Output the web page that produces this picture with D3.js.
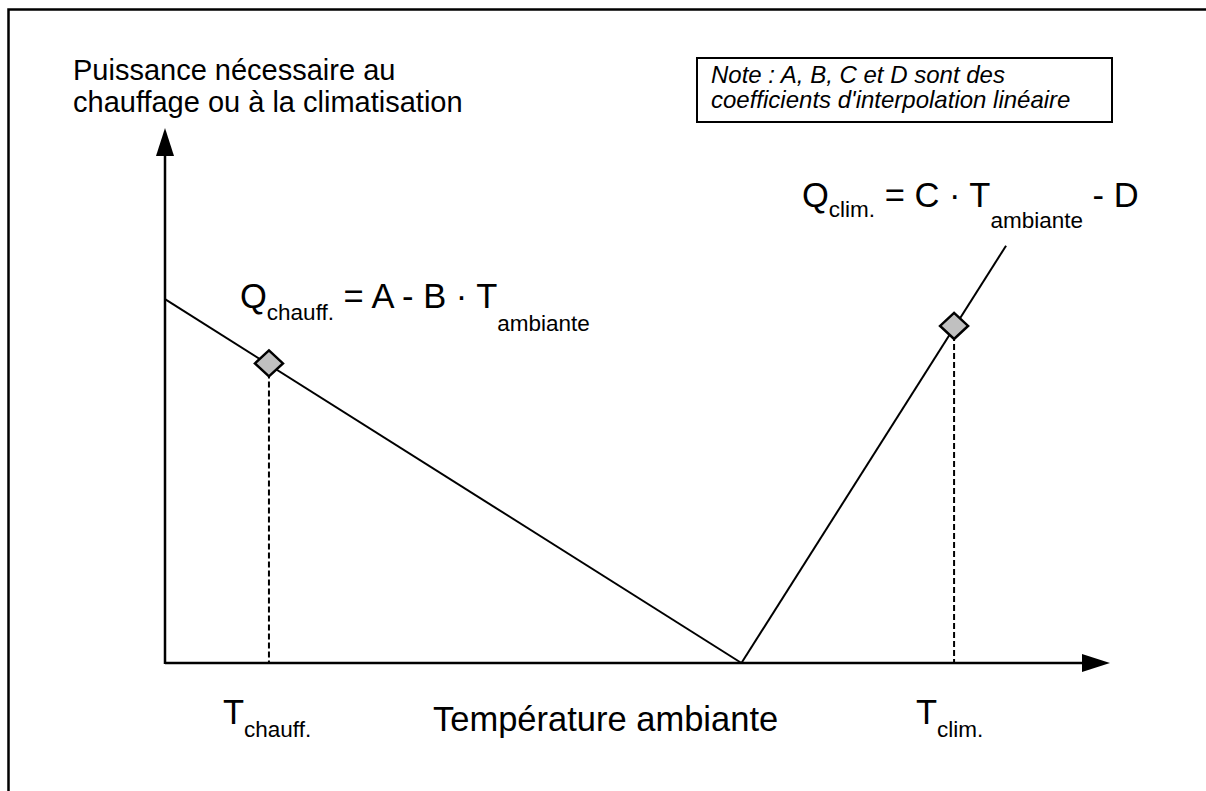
<!DOCTYPE html>
<html>
<head>
<meta charset="utf-8">
<script src="https://cdn.jsdelivr.net/npm/d3@7"></script>
<style>
  body { margin: 0; background: #fff; }
  text { font-family: "Liberation Sans", Arial, sans-serif; fill: #000; }
</style>
</head>
<body>
<svg id="chart"></svg>
<script>
// values (arbitrary units, axis origin = 0)
const tempDomain = [0, 100];
const powerDomain = [0, 100];
const heatLine = [[0, 68], [61, 0]];          // Q chauff. = A - B * T
const coolLine = [[61, 0], [89, 78]];         // Q clim. = C * T - D
const markers = [[11, 56], [83.5, 63]];       // T chauff., T clim.

const yLabel = ["Puissance nécessaire au", "chauffage ou à la climatisation"];
const xLabel = "Température ambiante";
const noteLines = ["Note : A, B, C et D sont des", "coefficients d'interpolation linéaire"];

const width = 1206, height = 791;

const svg = d3.select("#chart")
    .attr("width", width)
    .attr("height", height)
    .attr("viewBox", [0, 0, width, height]);

// outer frame (runs off the right and bottom edges)
svg.append("rect")
    .attr("x", 8.5).attr("y", 9.5)
    .attr("width", 1400).attr("height", 1000)
    .attr("fill", "none").attr("stroke", "#000").attr("stroke-width", 2.5);

const x = d3.scaleLinear().domain(tempDomain).range([165, 1110]);
const y = d3.scaleLinear().domain(powerDomain).range([663, 128]);

const line = d3.line().x(d => x(d[0])).y(d => y(d[1]));

// dashed drops from markers
svg.append("g")
    .selectAll("line")
    .data(markers)
    .join("line")
    .attr("x1", d => x(d[0])).attr("x2", d => x(d[0]))
    .attr("y1", d => y(d[1])).attr("y2", y(0))
    .attr("stroke", "#000").attr("stroke-width", 2)
    .attr("stroke-dasharray", "6,3");

// curves
svg.selectAll("path.curve")
    .data([heatLine, coolLine])
    .join("path")
    .attr("class", "curve")
    .attr("d", line)
    .attr("fill", "none").attr("stroke", "#000").attr("stroke-width", 2);

// axes with arrows
svg.append("line")
    .attr("x1", x(0)).attr("x2", x(tempDomain[1]) - 20)
    .attr("y1", y(0)).attr("y2", y(0))
    .attr("stroke", "#000").attr("stroke-width", 2.5);
svg.append("line")
    .attr("x1", x(0)).attr("x2", x(0))
    .attr("y1", y(0) + 1).attr("y2", y(powerDomain[1]) + 20)
    .attr("stroke", "#000").attr("stroke-width", 2.5);

const xt = x(tempDomain[1]), yt = y(powerDomain[1]);
svg.append("path")
    .attr("d", `M${xt},${y(0)}L${xt - 28},${y(0) - 9}L${xt - 28},${y(0) + 9}Z`)
    .attr("fill", "#000");
svg.append("path")
    .attr("d", `M${x(0)},${yt}L${x(0) - 9},${yt + 28}L${x(0) + 9},${yt + 28}Z`)
    .attr("fill", "#000");

// diamonds
svg.append("g")
    .selectAll("path")
    .data(markers)
    .join("path")
    .attr("d", d => {
        const cx = x(d[0]), cy = y(d[1]);
        return `M${cx},${cy - 13}L${cx + 14},${cy}L${cx},${cy + 13}L${cx - 14},${cy}Z`;
    })
    .attr("fill", "#c0c0c0").attr("stroke", "#000").attr("stroke-width", 2.5);

// text helper: parts = [[string, drop, size]]
function richText(px, py, parts) {
    const t = svg.append("text")
        .attr("x", px).attr("y", py)
        .style("white-space", "pre");
    let cur = 0;
    parts.forEach(([s, drop, size]) => {
        t.append("tspan").text(s)
            .attr("dy", drop - cur)
            .attr("font-size", size);
        cur = drop;
    });
    return t;
}

// y label
yLabel.forEach((s, i) => richText(73, 80 + i * 32, [[s, 0, 29]]));

// note box
svg.append("rect")
    .attr("x", 697).attr("y", 58).attr("width", 415).attr("height", 64)
    .attr("fill", "#fff").attr("stroke", "#000").attr("stroke-width", 2);
noteLines.forEach((s, i) => richText(711, 83 + i * 25, [[s, 0, 24]])
    .attr("font-style", "italic"));

// formulas
const F = 34.5, S = 22.5;
richText(240, 308, [["Q", 0, F], ["chauff.", 12, S], [" = A - B · T", 0, F], ["ambiante", 23, S]]);
richText(802, 207, [["Q", 0, F], ["clim.", 10, S], [" = C · T", 0, F], ["ambiante", 21, S], [" - D", 0, F]]);

// x labels
richText(223, 724, [["T", 0, F], ["chauff.", 13, S]]);
richText(433, 731, [[xLabel, 0, F]]);
richText(916, 724, [["T", 0, F], ["clim.", 13, S]]);
</script>
</body>
</html>
